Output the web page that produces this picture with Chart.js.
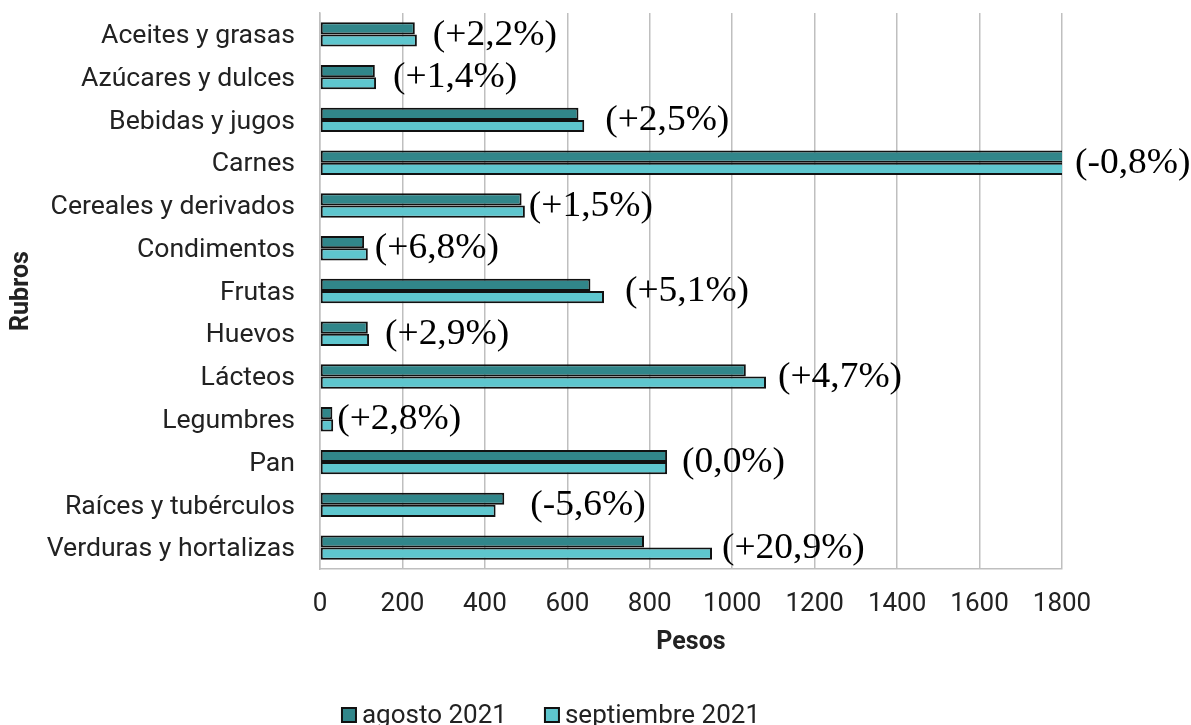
<!DOCTYPE html>
<html>
<head>
<meta charset="utf-8">
<script src="https://cdn.jsdelivr.net/npm/chart.js@4.4.0/dist/chart.umd.min.js"></script>
<style>
html,body{margin:0;padding:0;background:#fff;}
#wrap{width:1191px;height:725px;position:relative;}
</style>
</head>
<body>
<div id="wrap"><canvas id="c" width="1191" height="725"></canvas></div>
<script>
const categories = ["Aceites y grasas","Azúcares y dulces","Bebidas y jugos","Carnes","Cereales y derivados","Condimentos","Frutas","Huevos","Lácteos","Legumbres","Pan","Raíces y tubérculos","Verduras y hortalizas"];
const agosto2021 = [230,133,627,1830,489,107,656,116,1033,30,842,447,786];
const septiembre2021 = [235,136,641,1815,497,116,689,119,1082,32,842,426,951];
const variacion = ["(+2,2%)","(+1,4%)","(+2,5%)","(-0,8%)","(+1,5%)","(+6,8%)","(+5,1%)","(+2,9%)","(+4,7%)","(+2,8%)","(0,0%)","(-5,6%)","(+20,9%)"];
const xTicks = [0,200,400,600,800,1000,1200,1400,1600,1800];
const seriesNames = ["agosto 2021","septiembre 2021"];

// label offsets (px) after the longest bar, layout only
const labelGaps = [16,17,21,13,4,7,21,16,12,4,15,26,10];
const colors = ["#31868A","#5EC6CE"];

const labelPlugin = {
  id:'pctLabels',
  afterDatasetsDraw(chart){
    const ctx = chart.ctx, xs = chart.scales.x, ys = chart.scales.y;
    ctx.save();
    ctx.font = '35px "Liberation Serif", "Times New Roman", serif';
    ctx.fillStyle = '#000';
    ctx.textBaseline = 'middle';
    ctx.textAlign = 'left';
    variacion.forEach((t,i)=>{
      const v = Math.min(Math.max(agosto2021[i], septiembre2021[i]), xs.max);
      const x = xs.getPixelForValue(v) + labelGaps[i];
      const y = ys.getPixelForValue(i) + 1;
      ctx.save();
      ctx.translate(x,y);
      ctx.scale(1.07,1);
      ctx.fillText(t,0,0);
      ctx.restore();
    });
    ctx.restore();
  },
  afterDraw(chart){
    const ctx = chart.ctx;
    ctx.save();
    ctx.font = '26px Roboto';
    ctx.textBaseline = 'middle';
    const box = 14, gapBT = 6, gapItems = 38;
    const w = seriesNames.map(s=>ctx.measureText(s).width);
    const total = box+gapBT+w[0]+gapItems+box+gapBT+w[1];
    let x = 551 - total/2;
    const y = 715;
    seriesNames.forEach((s,i)=>{
      ctx.fillStyle = colors[i];
      ctx.fillRect(x, y-box/2, box, box);
      ctx.strokeStyle = '#111';
      ctx.lineWidth = 2;
      ctx.strokeRect(x, y-box/2, box, box);
      ctx.fillStyle = '#222';
      ctx.fillText(s, x+box+gapBT, y+1);
      x += box+gapBT+w[i]+gapItems;
    });
    ctx.restore();
  }
};

new Chart(document.getElementById('c'), {
  type:'bar',
  data:{
    labels: categories,
    datasets:[
      {label:seriesNames[0], data:agosto2021, backgroundColor:colors[0], borderColor:'#111', borderWidth:2, borderSkipped:false, categoryPercentage:0.57, barPercentage:1},
      {label:seriesNames[1], data:septiembre2021, backgroundColor:colors[1], borderColor:'#111', borderWidth:2, borderSkipped:false, categoryPercentage:0.57, barPercentage:1}
    ]
  },
  options:{
    indexAxis:'y',
    responsive:false,
    animation:false,
    layout:{padding:{left:0,right:129,top:13,bottom:66}},
    plugins:{legend:{display:false},tooltip:{enabled:false}},
    scales:{
      x:{
        min:0,max:1800,
        afterBuildTicks(scale){ scale.ticks = xTicks.map(v=>({value:v})); },
        afterFit(scale){ scale.height = 90; scale.paddingLeft = 0; scale.paddingRight = 0; },
        grid:{color:'#BFBFBF',lineWidth:1.5,drawTicks:false},
        border:{color:'#BFBFBF',width:1.5},
        ticks:{font:{family:'Roboto',size:26},color:'#222',padding:20,maxRotation:0,callback:(v)=>String(v)},
        title:{display:true,text:'Pesos',font:{family:'Roboto',size:25,weight:'bold'},color:'#222',padding:{top:2,bottom:1}}
      },
      y:{
        afterFit(scale){ scale.width = 320; scale.paddingTop = 0; scale.paddingBottom = 0; },
        grid:{display:false,drawTicks:false},
        border:{color:'#BFBFBF',width:1.5},
        ticks:{font:{family:'Roboto',size:26.6},color:'#222',padding:25,autoSkip:false,labelOffset:2},
        title:{display:true,text:'Rubros',font:{family:'Roboto',size:25,weight:'bold'},color:'#222',padding:{top:7,bottom:0}}
      }
    }
  },
  plugins:[labelPlugin]
});
</script>
</body>
</html>
